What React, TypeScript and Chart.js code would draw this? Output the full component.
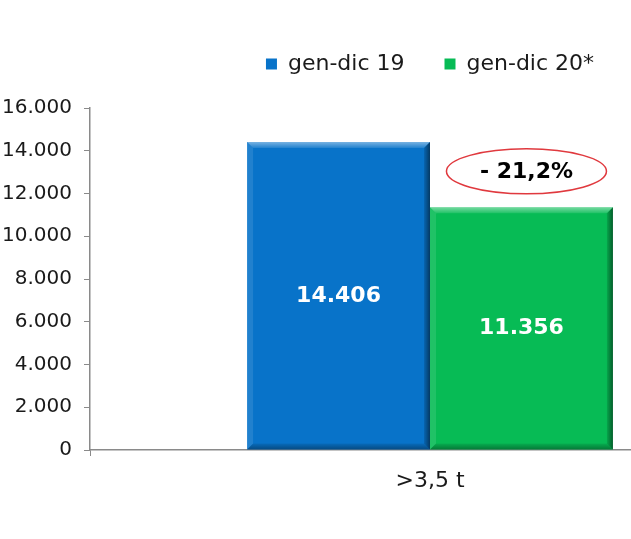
import { useEffect, useRef } from "react";
import { Chart, registerables } from "chart.js";

const categories = [">3,5 t"];
const seriesNames = ["gen-dic 19", "gen-dic 20*"];
const values2019 = [14406];
const values2020 = [11356];
const yMin = 0;
const yMax = 16000;
const yStep = 2000;

const FONT = "'DejaVu Sans', Verdana, sans-serif";

const fmt = (n: number) =>
  Math.round(n).toString().replace(/\B(?=(\d{3})+(?!\d))/g, ".");

// taller legend box so the plot starts lower, and centre it on the whole canvas
const legendSpace = {
  id: "legendSpace",
  beforeInit(chart: any) {
    const fit = chart.legend.fit;
    chart.legend.fit = function () {
      fit.bind(chart.legend)();
      this.height = 95;
    };
  },
  afterLayout(chart: any) {
    const lg = chart.legend;
    lg.left = 0;
    lg.right = chart.width;
    lg.width = chart.width;
  },
};

// fake 3D bevel on each bar
const bevel = {
  id: "bevel",
  afterDatasetsDraw(chart: any) {
    const ctx = chart.ctx;
    const b = 6;
    chart.data.datasets.forEach((_: any, i: number) => {
      chart.getDatasetMeta(i).data.forEach((el: any) => {
        const { x, y, base, width } = el.getProps(["x", "y", "base", "width"], true);
        const l = x - width / 2;
        const r = x + width / 2;
        const t = Math.min(y, base);
        const btm = Math.max(y, base);
        const poly = (pts: number[][], fill: string | CanvasGradient) => {
          ctx.beginPath();
          ctx.moveTo(pts[0][0], pts[0][1]);
          pts.slice(1).forEach((p) => ctx.lineTo(p[0], p[1]));
          ctx.closePath();
          ctx.fillStyle = fill;
          ctx.fill();
        };
        ctx.save();
        const gTop = ctx.createLinearGradient(0, t, 0, t + b);
        gTop.addColorStop(0, "rgba(255,255,255,0.45)");
        gTop.addColorStop(1, "rgba(255,255,255,0.1)");
        poly([[l, t], [r, t], [r - b, t + b], [l + b, t + b]], gTop);
        poly([[l, t], [l + b, t + b], [l + b, btm - b], [l, btm]], "rgba(255,255,255,0.1)");
        const gRight = ctx.createLinearGradient(r - b, 0, r, 0);
        gRight.addColorStop(0, "rgba(0,0,0,0.12)");
        gRight.addColorStop(1, "rgba(0,0,0,0.5)");
        poly([[r, t], [r, btm], [r - b, btm - b], [r - b, t + b]], gRight);
        const gBot = ctx.createLinearGradient(0, btm - b, 0, btm);
        gBot.addColorStop(0, "rgba(0,0,0,0.08)");
        gBot.addColorStop(1, "rgba(0,0,0,0.35)");
        poly([[l, btm], [r, btm], [r - b, btm - b], [l + b, btm - b]], gBot);
        ctx.restore();
      });
    });
  },
};

const valueLabels = {
  id: "valueLabels",
  afterDatasetsDraw(chart: any) {
    const ctx = chart.ctx;
    ctx.save();
    ctx.font = `bold 22px ${FONT}`;
    ctx.fillStyle = "#ffffff";
    ctx.textAlign = "center";
    ctx.textBaseline = "middle";
    chart.data.datasets.forEach((ds: any, i: number) => {
      chart.getDatasetMeta(i).data.forEach((el: any, j: number) => {
        const { x, y, base } = el.getProps(["x", "y", "base"], true);
        ctx.fillText(fmt(ds.data[j]), x, (y + base) / 2);
      });
    });
    ctx.restore();
  },
};

const changeBadge = {
  id: "changeBadge",
  afterDatasetsDraw(chart: any) {
    const el = chart.getDatasetMeta(1).data[0];
    if (!el) return;
    const { x, y } = el.getProps(["x", "y"], true);
    const pct = ((values2020[0] - values2019[0]) / values2019[0]) * 100;
    const txt = (pct < 0 ? "- " : "+ ") + Math.abs(pct).toFixed(1).replace(".", ",") + "%";
    const cx = x + 5;
    const cy = y - 36;
    const ctx = chart.ctx;
    ctx.save();
    ctx.beginPath();
    ctx.ellipse(cx, cy, 80, 22.5, 0, 0, Math.PI * 2);
    ctx.strokeStyle = "#e0393e";
    ctx.lineWidth = 1.5;
    ctx.stroke();
    ctx.font = `bold 22px ${FONT}`;
    ctx.fillStyle = "#000000";
    ctx.textAlign = "center";
    ctx.textBaseline = "middle";
    ctx.fillText(txt, cx, cy + 1);
    ctx.restore();
  },
};

export default function App() {
  const ref = useRef<HTMLCanvasElement>(null);

  useEffect(() => {
    document.body.style.margin = "0";
    Chart.register(...registerables);
    const chart = new Chart(ref.current!, {
      type: "bar",
      data: {
        labels: categories,
        datasets: [
          {
            label: seriesNames[0],
            data: values2019,
            backgroundColor: "#0873c9",
            borderWidth: 0,
          },
          {
            label: seriesNames[1],
            data: values2020,
            backgroundColor: "#07bb55",
            borderWidth: 0,
          },
        ],
      },
      options: {
        responsive: false,
        animation: false,
        layout: { padding: { top: 13, left: 0, right: 90, bottom: 49 } },
        datasets: {
          bar: { categoryPercentage: 0.538, barPercentage: 1 },
        },
        plugins: {
          tooltip: { enabled: false },
          legend: {
            position: "top",
            labels: {
              boxWidth: 11,
              boxHeight: 11,
              padding: 40,
              color: "#1a1a1a",
              font: { family: FONT, size: 22 },
            },
          },
        },
        scales: {
          x: {
            afterFit: (s: any) => {
              s.height = 40;
            },
            grid: {
              drawOnChartArea: false,
              tickLength: 6,
              color: "#8a8a8a",
            },
            border: { color: "#8a8a8a", width: 1.5 },
            ticks: {
              padding: 12,
              color: "#1a1a1a",
              font: { family: FONT, size: 22 },
            },
          },
          y: {
            min: yMin,
            max: yMax,
            afterFit: (s: any) => {
              s.width = 90;
            },
            grid: {
              drawOnChartArea: false,
              tickLength: 6,
              color: "#8a8a8a",
            },
            border: { color: "#8a8a8a", width: 1.5 },
            ticks: {
              stepSize: yStep,
              padding: 12,
              color: "#1a1a1a",
              font: { family: FONT, size: 20 },
              callback: (v: any) => fmt(Number(v)),
            },
          },
        },
      },
      plugins: [legendSpace, bevel, valueLabels, changeBadge],
    });
    return () => chart.destroy();
  }, []);

  return (
    <div style={{ position: "relative", width: 631, height: 539, overflow: "hidden", background: "#fff" }}>
      <canvas ref={ref} width={860} height={539} />
    </div>
  );
}
